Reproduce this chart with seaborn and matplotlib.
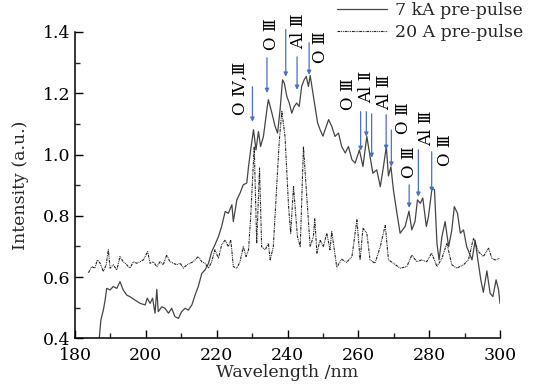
import matplotlib
matplotlib.use("Agg")
import matplotlib.pyplot as plt
import seaborn as sns
import pandas as pd

# ---- data ----
solid_nm = [186.7, 187.3, 188.0, 188.5, 188.95, 189.9, 190.8, 191.8, 192.7, 193.6, 194.6, 195.5,
            196.9, 198.4, 199.8, 200.4, 201.2, 201.9, 202.6, 203.1, 203.5, 204.5, 205.4, 206.4,
            207.3, 208.2, 209.2, 210.1, 211.1, 212.0, 213.0, 213.9, 214.8, 215.8, 216.7, 217.7,
            218.6, 219.5, 220.5, 221.4, 222.4, 223.3, 224.3, 224.7, 225.7, 226.6, 227.5, 228.5,
            229.0, 229.6, 230.4, 231.1, 231.8, 232.4, 233.2, 234.3, 234.6, 235.6, 236.5, 237.2,
            237.9, 238.6, 239.1, 239.8, 240.5, 241.2, 241.9, 242.6, 243.3, 244.0, 244.7, 245.3,
            245.9, 246.4, 247.6, 248.5, 249.2, 250.0, 251.6, 252.5, 253.4, 254.4, 255.3, 256.3,
            257.2, 258.2, 259.1, 260.3, 261.3, 262.4, 263.3, 264.1, 265.2, 266.2, 267.1, 267.9,
            268.5, 269.2, 269.9, 270.9, 271.8, 273.2, 274.3, 275.1, 276.0, 276.7, 277.5, 278.2,
            279.2, 279.8, 280.8, 281.5, 282.2, 282.8, 283.6, 284.5, 285.5, 286.4, 287.1, 288.0,
            288.8, 289.7, 290.6, 292.1, 293.0, 293.7, 294.6, 295.3, 296.3, 297.2, 298.0, 298.9,
            299.6, 300.0]
solid_int = [0.38, 0.46, 0.492, 0.525, 0.563, 0.558, 0.569, 0.563, 0.585, 0.558, 0.541, 0.536,
             0.525, 0.514, 0.509, 0.531, 0.514, 0.531, 0.482, 0.56, 0.487, 0.503, 0.498, 0.482,
             0.498, 0.471, 0.465, 0.487, 0.498, 0.492, 0.509, 0.541, 0.569, 0.612, 0.623, 0.645,
             0.683, 0.705, 0.732, 0.765, 0.814, 0.808, 0.836, 0.781, 0.852, 0.874, 0.901, 0.907,
             0.961, 1.015, 1.081, 1.015, 1.075, 1.026, 1.059, 1.157, 1.179, 1.135, 1.092, 1.07,
             1.146, 1.244, 1.233, 1.19, 1.168, 1.135, 1.157, 1.168, 1.157, 1.222, 1.244, 1.255,
             1.222, 1.258, 1.17, 1.103, 1.081, 1.06, 1.114, 1.092, 1.059, 1.07, 1.026, 1.005,
             1.026, 0.983, 0.972, 1.015, 0.961, 1.059, 0.994, 0.939, 0.95, 0.895, 0.961, 1.026,
             0.93, 0.96, 0.885, 0.808, 0.743, 0.765, 0.815, 0.754, 0.781, 0.852, 0.841, 0.858,
             0.765, 0.797, 0.89, 0.885, 0.71, 0.656, 0.732, 0.781, 0.699, 0.754, 0.83, 0.808,
             0.743, 0.754, 0.699, 0.656, 0.72, 0.66, 0.59, 0.55, 0.62, 0.547, 0.536, 0.591,
             0.558, 0.514]

dot_nm = [183.8, 184.7, 185.6, 186.3, 187.1, 188.0, 188.8, 189.4, 189.9, 190.8, 191.8, 192.7,
          193.6, 194.6, 195.5, 196.5, 197.4, 198.4, 199.3, 200.5, 201.2, 202.1, 203.1, 204.0,
          204.9, 205.9, 206.8, 207.8, 208.7, 209.7, 210.6, 211.6, 212.5, 213.4, 214.8, 215.8,
          216.7, 217.7, 218.6, 219.5, 220.5, 221.4, 222.4, 223.3, 224.0, 224.7, 225.7, 226.6,
          227.5, 228.3, 229.0, 229.6, 230.6, 231.3, 232.1, 232.7, 233.7, 234.6, 235.1, 236.0,
          237.0, 237.7, 238.4, 239.3, 240.3, 240.9, 241.7, 242.8, 243.6, 244.5, 245.5, 246.4,
          247.3, 247.7, 248.3, 249.2, 250.1, 251.1, 252.0, 252.5, 253.9, 255.3, 256.7, 258.2,
          259.6, 260.5, 261.3, 262.4, 263.3, 264.7, 266.2, 267.6, 268.5, 269.9, 271.8, 273.7,
          275.1, 276.5, 277.9, 279.3, 280.7, 282.2, 283.6, 285.0, 286.4, 287.8, 289.7, 291.1,
          292.5, 293.9, 295.3, 296.8, 297.7, 298.6, 299.9]
dot_int = [0.614, 0.634, 0.629, 0.656, 0.645, 0.618, 0.64, 0.689, 0.629, 0.64, 0.623, 0.667,
           0.65, 0.64, 0.629, 0.65, 0.645, 0.65, 0.656, 0.683, 0.645, 0.65, 0.634, 0.65,
           0.64, 0.672, 0.65, 0.645, 0.64, 0.645, 0.629, 0.64, 0.645, 0.65, 0.667, 0.65,
           0.645, 0.629, 0.65, 0.689, 0.661, 0.705, 0.721, 0.699, 0.721, 0.634, 0.629, 0.65,
           0.699, 0.667, 0.689, 0.797, 1.026, 0.71, 0.956, 0.699, 0.689, 0.71, 0.656, 0.699,
           0.907, 1.048, 1.141, 1.059, 0.83, 0.743, 0.895, 0.732, 0.699, 1.026, 0.852, 0.699,
           0.732, 0.79, 0.678, 0.721, 0.699, 0.743, 0.689, 0.748, 0.632, 0.658, 0.648, 0.667,
           0.787, 0.656, 0.759, 0.743, 0.656, 0.645, 0.699, 0.77, 0.656, 0.645, 0.629, 0.634,
           0.672, 0.65, 0.656, 0.65, 0.678, 0.634, 0.661, 0.71, 0.64, 0.629, 0.64, 0.656,
           0.727, 0.683, 0.667, 0.694, 0.661, 0.656, 0.661]

series_labels = ["7 kA pre-pulse", "20 A pre-pulse"]

# arrows: wavelength, tip intensity, tail intensity
arrow_nm = [230.1, 234.2, 239.5, 242.7, 246.1, 260.65, 262.26, 263.76, 267.85, 269.32, 274.35, 276.95, 280.71]
arrow_tip = [1.107, 1.201, 1.254, 1.211, 1.260, 1.012, 1.058, 0.989, 1.015, 0.960, 0.826, 0.862, 0.878]
arrow_tail = [1.221, 1.316, 1.408, 1.319, 1.365, 1.140, 1.140, 1.133, 1.130, 1.080, 0.901, 1.015, 1.009]

# line labels: text, wavelength (centre), intensity (centre)
line_text = ["O Ⅳ,Ⅲ", "O Ⅲ", "Al Ⅲ", "O Ⅲ", "O Ⅲ", "Al Ⅱ", "Al Ⅲ", "O Ⅲ", "O Ⅲ", "Al Ⅲ", "O Ⅲ"]
line_nm = [226.75, 235.5, 243.0, 249.2, 257.1, 262.2, 267.3, 272.65, 274.5, 279.15, 284.7]
line_int = [1.215, 1.394, 1.401, 1.352, 1.198, 1.221, 1.202, 1.120, 0.976, 1.087, 1.015]

x_ticks = [180, 200, 220, 240, 260, 280, 300]
y_ticks = [0.4, 0.6, 0.8, 1.0, 1.2, 1.4]

# ---- plotting ----
sns.set_theme(style="ticks")
plt.rcParams["font.family"] = ["DejaVu Serif", "DejaVu Sans"]
plt.rcParams["font.size"] = 12

fig = plt.figure(figsize=(5.42, 3.85), dpi=100)
fig.patch.set_facecolor("white")
ax = fig.add_axes([0.1384, 0.1213, 0.7841, 0.7956])
ax.set_facecolor("white")

df_solid = pd.DataFrame({"nm": solid_nm, "I": solid_int})
df_dot = pd.DataFrame({"nm": dot_nm, "I": dot_int})

sns.lineplot(data=df_solid, x="nm", y="I", ax=ax, color="#454545", linewidth=0.9,
             estimator=None, sort=False, label=series_labels[0])
sns.lineplot(data=df_dot, x="nm", y="I", ax=ax, color="#222222", linewidth=0.8,
             estimator=None, sort=False, label=series_labels[1],
             linestyle=(0, (2.5, 0.8, 0.8, 0.8, 0.8, 0.8)))

for x, t, s in zip(arrow_nm, arrow_tip, arrow_tail):
    ax.annotate("", xy=(x, t), xytext=(x, s), annotation_clip=False,
                arrowprops=dict(arrowstyle="-|>", color="#4a70c8", lw=0.9,
                                mutation_scale=6, shrinkA=0, shrinkB=0))

for txt, x, y in zip(line_text, line_nm, line_int):
    ax.text(x, y, txt, rotation=90, ha="center", va="center", fontsize=12,
            color="black", clip_on=False)

ax.set_xlim(180, 300)
ax.set_ylim(0.4, 1.4)
ax.set_xticks(x_ticks)
ax.set_yticks(y_ticks)
ax.set_xticks([190, 210, 230, 250, 270, 290], minor=True)
ax.set_yticks([0.5, 0.7, 0.9, 1.1, 1.3], minor=True)
ax.set_yticklabels([f"{v:.1f}" for v in y_ticks])
ax.tick_params(axis="both", which="major", direction="in", length=6, width=1,
               labelsize=12.5, colors="black")
ax.tick_params(axis="x", which="major", pad=6)
ax.tick_params(axis="y", which="major", pad=3)
ax.tick_params(axis="both", which="minor", direction="in", length=3.5, width=1)
for side in ["top", "right"]:
    ax.spines[side].set_visible(False)
for side in ["left", "bottom"]:
    ax.spines[side].set_linewidth(1.1)
    ax.spines[side].set_color("black")

ax.set_xlabel("Wavelength /nm", fontsize=12.5, labelpad=0)
ax.set_ylabel("Intensity (a.u.)", fontsize=12.5, labelpad=10)

ax.legend(loc="upper left", bbox_to_anchor=(0.621, 0.995), bbox_transform=fig.transFigure,
          frameon=False, handlelength=2.9, handletextpad=0.45, borderpad=0,
          borderaxespad=0, labelspacing=0.3, fontsize=12.5)

fig.savefig("out.png", dpi=100, facecolor="white")
